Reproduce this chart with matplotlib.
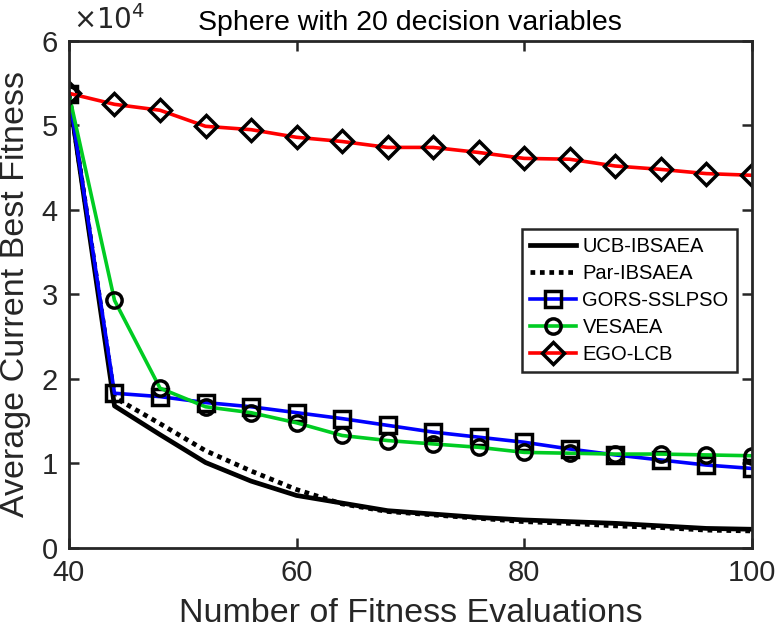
import matplotlib
matplotlib.use("Agg")
import matplotlib.pyplot as plt

plt.rcParams['font.family'] = ['Liberation Sans', 'DejaVu Sans']

# evaluations (every 4th point)
evals = [40, 44, 48, 52, 56, 60, 64, 68, 72, 76, 80, 84, 88, 92, 96, 100]

# average best fitness, in units of 1e4
ucb = [5.37, 1.68, 1.34, 1.01, 0.79, 0.62, 0.53, 0.44, 0.40, 0.36, 0.33, 0.31, 0.29, 0.26, 0.23, 0.22]
par = [5.37, 1.78, 1.47, 1.15, 0.91, 0.69, 0.52, 0.43, 0.39, 0.35, 0.31, 0.29, 0.26, 0.24, 0.21, 0.20]
gors = [5.37, 1.83, 1.79, 1.72, 1.67, 1.60, 1.53, 1.45, 1.37, 1.31, 1.25, 1.17, 1.10, 1.04, 0.98, 0.94]
vesaea = [5.37, 2.93, 1.89, 1.67, 1.60, 1.48, 1.33, 1.27, 1.23, 1.19, 1.13, 1.12, 1.11, 1.11, 1.10, 1.09]
ego = [5.38, 5.25, 5.18, 4.99, 4.95, 4.86, 4.81, 4.74, 4.74, 4.68, 4.61, 4.60, 4.52, 4.48, 4.43, 4.41]

fig = plt.figure(figsize=(7.75, 6.4), dpi=100)
ax = fig.add_axes([0.089, 0.144, 0.881, 0.792])

lw = 2.6
mk = dict(markersize=11, markeredgewidth=2.5, markeredgecolor='black', markerfacecolor='none')

ax.plot(evals, ucb, color='black', lw=3.4, label='UCB-IBSAEA')
ax.plot(evals, par, color='black', lw=3.4, ls=(0, (1, 1)), label='Par-IBSAEA')
ax.plot(evals, gors, color='#0000ff', lw=lw, marker='s', label='GORS-SSLPSO', **mk)
ax.plot(evals, vesaea, color='#00cc22', lw=lw, marker='o', label='VESAEA', **mk)
ax.plot(evals, ego, color='#ff0000', lw=lw, marker='D', label='EGO-LCB', **dict(mk, markersize=11.5))

ax.set_xlim(40, 100)
ax.set_ylim(0, 6)
ax.set_xticks([40, 60, 80, 100])
ax.set_yticks([0, 1, 2, 3, 4, 5, 6])
ax.tick_params(direction='in', length=7, width=1.8, labelsize=21, colors='#262626',
               top=True, right=True, pad=8)
for s in ax.spines.values():
    s.set_linewidth(2)
    s.set_color('#262626')

ax.set_xlabel('Number of Fitness Evaluations', fontsize=24.5, color='#262626', labelpad=8)
ax.set_ylabel('Average Current Best Fitness', fontsize=24.5, color='#262626', labelpad=8)
ax.set_title('Sphere with 20 decision variables', fontsize=20.5, pad=8)
ax.text(0.006, 1.012, r'$\times10^4$', transform=ax.transAxes, fontsize=20,
        color='#262626', ha='left', va='bottom', math_fontfamily='dejavusans')

leg = ax.legend(loc='upper right', bbox_to_anchor=(0.978, 0.629), borderaxespad=0,
                fontsize=14.5, handlelength=2.3, handletextpad=0.3, borderpad=0.4,
                labelspacing=0.4, fancybox=False, framealpha=1)
leg.get_frame().set_edgecolor('#262626')
leg.get_frame().set_linewidth(1.8)

fig.savefig('out.png', dpi=100)
